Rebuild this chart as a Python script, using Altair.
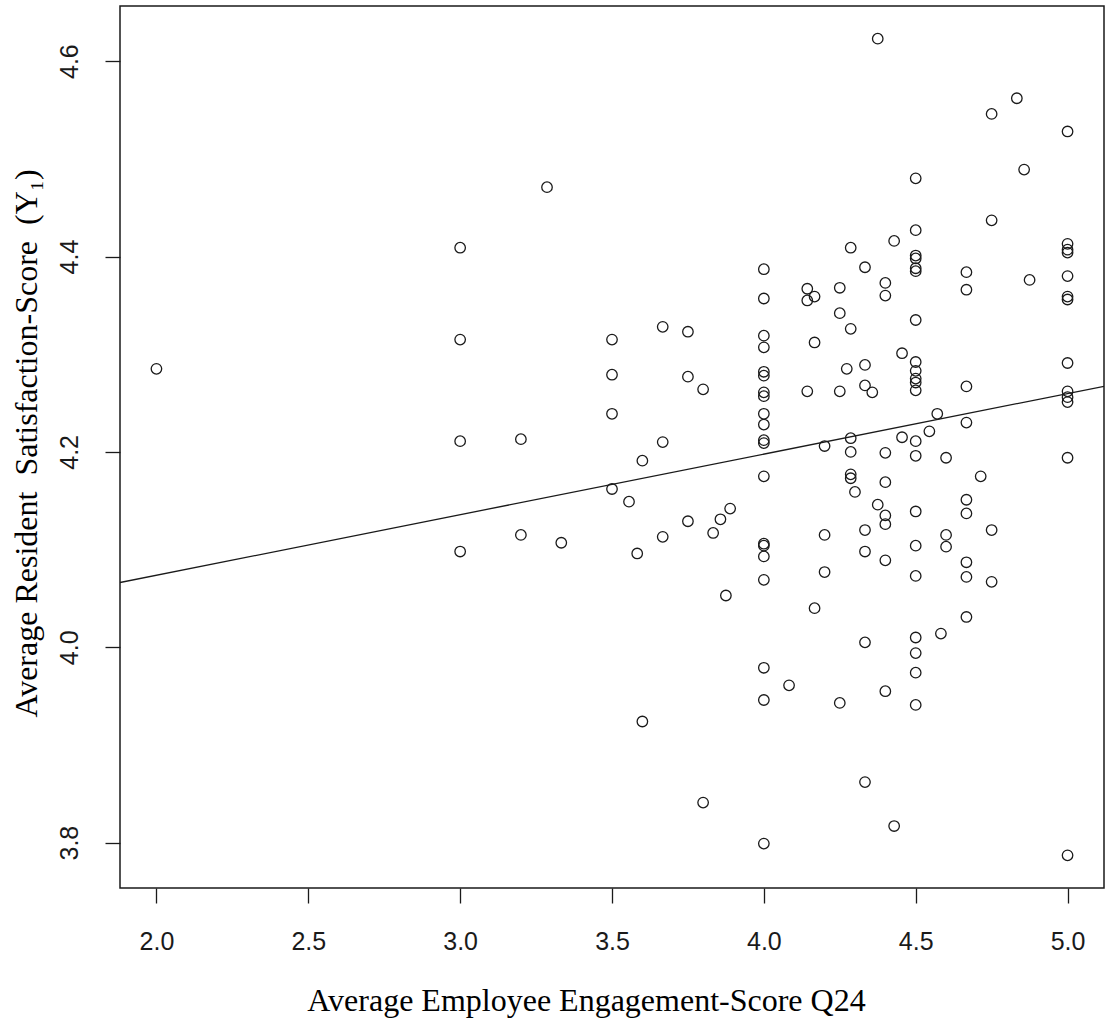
import altair as alt
import pandas as pd

# Average Employee Engagement-Score Q24 (x) and Average Resident Satisfaction-Score (y)
engagement = [
    2.0,
    3.0, 3.0, 3.0, 3.0,
    3.2, 3.2, 3.286, 3.333,
    3.5, 3.5, 3.5, 3.5,
    3.556, 3.583, 3.6, 3.6,
    3.667, 3.667, 3.667,
    3.75, 3.75, 3.75,
    3.8, 3.8, 3.833, 3.857, 3.875, 3.889,
    4.0, 4.0, 4.0, 4.0, 4.0, 4.0, 4.0, 4.0, 4.0, 4.0,
    4.0, 4.0, 4.0, 4.0, 4.0, 4.0, 4.0, 4.0, 4.0, 4.0,
    4.083, 4.143, 4.143, 4.143, 4.167, 4.167, 4.167,
    4.2, 4.2, 4.2, 4.25, 4.25, 4.25, 4.25, 4.273,
    4.286, 4.286, 4.286, 4.286, 4.286, 4.286, 4.3,
    4.333, 4.333, 4.333, 4.333, 4.333, 4.333, 4.333, 4.357,
    4.375, 4.375, 4.4, 4.4, 4.4, 4.4, 4.4, 4.4, 4.4, 4.4,
    4.429, 4.429, 4.455, 4.455,
    4.5, 4.5, 4.5, 4.5, 4.5, 4.5, 4.5, 4.5, 4.5, 4.5, 4.5,
    4.5, 4.5, 4.5, 4.5, 4.5, 4.5, 4.5, 4.5, 4.5, 4.5,
    4.545, 4.571, 4.583, 4.6, 4.6, 4.6,
    4.667, 4.667, 4.667, 4.667, 4.667, 4.667, 4.667, 4.667, 4.667,
    4.714, 4.75, 4.75, 4.75, 4.75, 4.833, 4.857, 4.875,
    5.0, 5.0, 5.0, 5.0, 5.0, 5.0, 5.0, 5.0, 5.0, 5.0, 5.0, 5.0, 5.0,
]
satisfaction = [
    4.285,
    4.409, 4.315, 4.211, 4.098,
    4.213, 4.115, 4.471, 4.107,
    4.315, 4.279, 4.239, 4.162,
    4.149, 4.096, 4.191, 3.924,
    4.328, 4.210, 4.113,
    4.323, 4.277, 4.129,
    4.264, 3.841, 4.117, 4.131, 4.053, 4.142,
    4.387, 4.357, 4.319, 4.307, 4.282, 4.278, 4.261, 4.257, 4.239, 4.228,
    4.212, 4.209, 4.175, 4.106, 4.104, 4.093, 4.069, 3.979, 3.946, 3.799,
    3.961, 4.367, 4.355, 4.262, 4.359, 4.312, 4.040,
    4.206, 4.115, 4.077, 4.368, 4.342, 4.262, 3.943, 4.285,
    4.409, 4.326, 4.214, 4.200, 4.177, 4.173, 4.159,
    4.389, 4.289, 4.268, 4.120, 4.098, 4.005, 3.862, 4.261,
    4.623, 4.146, 4.373, 4.360, 4.199, 4.169, 4.135, 4.126, 4.089, 3.955,
    4.416, 3.817, 4.301, 4.215,
    4.480, 4.427, 4.401, 4.398, 4.388, 4.385, 4.335, 4.292, 4.283, 4.275, 4.271,
    4.263, 4.211, 4.196, 4.139, 4.104, 4.073, 4.010, 3.994, 3.974, 3.941,
    4.221, 4.239, 4.014, 4.194, 4.115, 4.103,
    4.384, 4.366, 4.267, 4.230, 4.151, 4.137, 4.087, 4.072, 4.031,
    4.175, 4.546, 4.437, 4.120, 4.067, 4.562, 4.489, 4.376,
    4.528, 4.413, 4.407, 4.404, 4.380, 4.359, 4.356, 4.291, 4.262, 4.256, 4.251, 4.194, 3.787,
]

# Fitted line as drawn in the figure (intercept, slope)
fit_intercept = 3.9497
fit_slope = 0.0620

x_ticks = [2.0, 2.5, 3.0, 3.5, 4.0, 4.5, 5.0]
y_ticks = [3.8, 4.0, 4.2, 4.4, 4.6]

x_title = "Average Employee Engagement-Score Q24"
y_title = "Average Resident\u00a0 Satisfaction-Score\u00a0 (Y\u2081)"

df = pd.DataFrame({"engagement": engagement, "satisfaction": satisfaction})

# R-style axis ranges: data range extended by 4% on each side
def r_range(vals):
    lo, hi = min(vals), max(vals)
    pad = (hi - lo) * 0.04
    return [lo - pad, hi + pad]

x_dom = r_range(engagement)
y_dom = r_range(satisfaction)

line_df = pd.DataFrame({
    "engagement": x_dom,
    "satisfaction": [fit_intercept + fit_slope * v for v in x_dom],
})

W, H = 984, 882
label_font = "Liberation Sans"
title_font = "Liberation Serif"
ink = "#1a1a1a"

x_enc = alt.X(
    "engagement:Q",
    scale=alt.Scale(domain=x_dom, nice=False, zero=False),
    axis=alt.Axis(
        values=x_ticks, format=".1f", grid=False, domain=False,
        tickSize=15, tickWidth=1.3, tickColor=ink,
        labelFont=label_font, labelFontSize=25, labelColor=ink,
        labelPadding=38, labelBaseline="middle", labelAlign="center",
        title=x_title, titleFont=title_font, titleFontSize=32,
        titleFontWeight="normal", titleColor="black",
        titleX=466, titleY=112, titleBaseline="middle", titleAlign="center",
    ),
)
y_enc = alt.Y(
    "satisfaction:Q",
    scale=alt.Scale(domain=y_dom, nice=False, zero=False),
    axis=alt.Axis(
        values=y_ticks, format=".1f", grid=False, domain=False,
        tickSize=15, tickWidth=1.3, tickColor=ink,
        labelFont=label_font, labelFontSize=25, labelColor=ink,
        labelAngle=270, labelPadding=36, labelBaseline="middle", labelAlign="center",
        title=y_title, titleFont=title_font, titleFontSize=32,
        titleFontWeight="normal", titleColor="black", titleAngle=270,
        titleX=-94, titleY=437, titleBaseline="middle", titleAlign="center",
    ),
)

points = alt.Chart(df).mark_point(
    shape="circle", filled=False, size=110, strokeWidth=1.3, color=ink, opacity=1
).encode(x=x_enc, y=y_enc)

fit = alt.Chart(line_df).mark_line(color=ink, strokeWidth=1.3, clip=True).encode(
    x=alt.X("engagement:Q"), y=alt.Y("satisfaction:Q")
)

chart = alt.layer(points, fit).properties(
    width=W, height=H,
    autosize=alt.AutoSizeParams(type="none"),
    padding={"left": 120, "top": 6, "right": 2, "bottom": 144},
    background="white",
).configure_view(stroke=ink, strokeWidth=1.5)

chart.save("out.html", embed_options={"renderer": "svg", "actions": False})
